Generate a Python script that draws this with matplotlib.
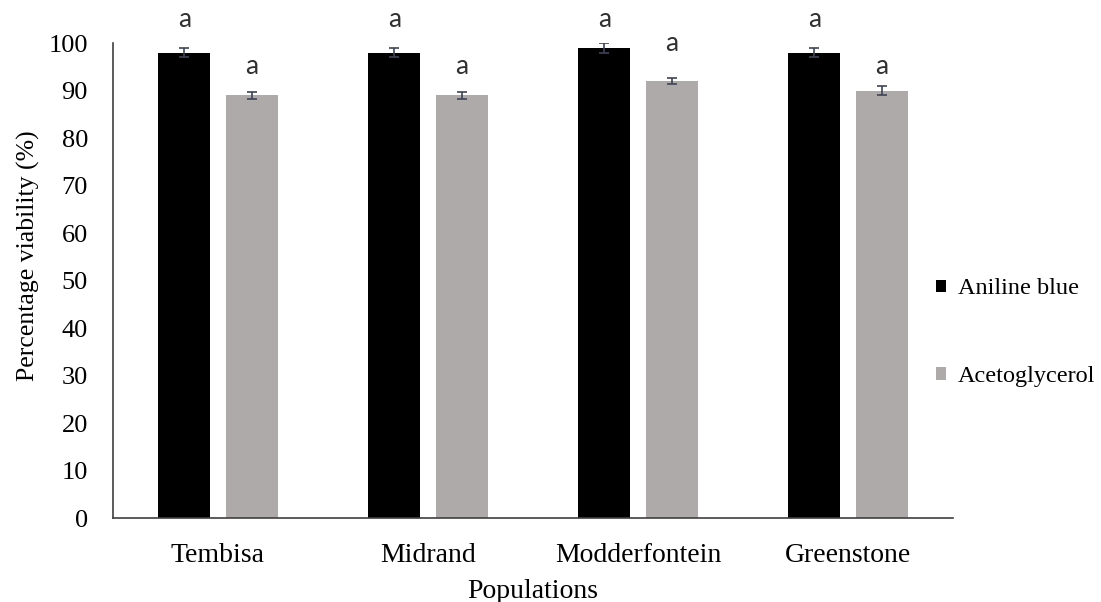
import numpy as np
import matplotlib
matplotlib.use("Agg")
import matplotlib.pyplot as plt

populations = ["Tembisa", "Midrand", "Modderfontein", "Greenstone"]
aniline_blue = [98, 98, 99, 98]
aniline_err = [0.9, 0.9, 1.1, 0.9]
acetoglycerol = [89, 89, 92, 90]
aceto_err = [0.7, 0.7, 0.7, 0.9]
# letters and the height at which they are printed above each bar
aniline_letters = ["a", "a", "a", "a"]
aniline_letter_y = [105, 105, 105, 105]
aceto_letters = ["a", "a", "a", "a"]
aceto_letter_y = [95, 95, 100, 95]

plt.rcParams["font.family"] = ["Liberation Serif", "DejaVu Serif"]

fig = plt.figure(figsize=(11.01, 6.02), dpi=100)
ax = fig.add_axes([0.1026, 0.1395, 0.763, 0.789])

x = np.arange(len(populations))
w = 0.248
off = 0.16
ekw = dict(ecolor="#3d4456", elinewidth=1.2, capsize=3.5, capthick=1.2)
ax.bar(x - off, aniline_blue, w, color="black", label="Aniline blue",
       yerr=aniline_err, error_kw=ekw)
ax.bar(x + off, acetoglycerol, w, color="#aeaaa9", label="Acetoglycerol",
       yerr=aceto_err, error_kw=ekw)

for i in range(len(populations)):
    ax.text(x[i] - off, aniline_letter_y[i], aniline_letters[i], ha="center", va="center",
            fontsize=19, family="Lato", color="#303030", clip_on=False)
    ax.text(x[i] + off, aceto_letter_y[i], aceto_letters[i], ha="center", va="center",
            fontsize=19, family="Lato", color="#303030", clip_on=False)

ax.set_xlim(-0.5, len(populations) - 0.5)
ax.set_ylim(0, 100)
ax.set_yticks(range(0, 101, 10))
ax.set_xticks(x)
ax.set_xticklabels(populations)
ax.tick_params(axis="y", length=0, labelsize=19, pad=18)
ax.tick_params(axis="x", length=0, labelsize=20, pad=18)
ax.spines["top"].set_visible(False)
ax.spines["right"].set_visible(False)
for s in ["left", "bottom"]:
    ax.spines[s].set_color("#404040")
    ax.spines[s].set_linewidth(1.2)

ax.set_xlabel("Populations", fontsize=20, labelpad=8)
ax.set_ylabel("Percentage viability (%)", fontsize=18.5)
ax.yaxis.set_label_coords(-0.087, 0.552)

ax.legend(loc="center left", bbox_to_anchor=(0.830, 0.447), bbox_transform=fig.transFigure,
          frameon=False, fontsize=17.5, handlelength=0.42, handleheight=0.42,
          handletextpad=0.5, labelspacing=2.75, borderpad=0.4)

fig.savefig("out.png", dpi=100)
